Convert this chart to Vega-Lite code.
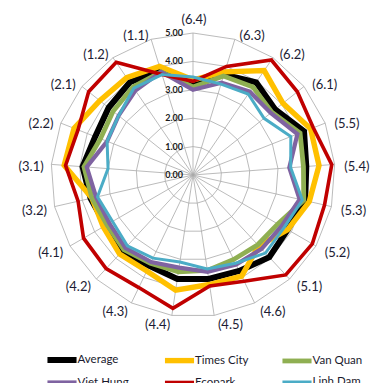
{
  "$schema": "https://vega.github.io/schema/vega-lite/v6.json",
  "width": 378,
  "height": 383,
  "padding": 0,
  "autosize": {"type": "none"},
  "config": {"view": {"stroke": null}, "font": "Lato"},
  "datasets": {
    "axes": [
      {"axis": "(6.4)", "ring": [1, 2, 3, 4, 5]},
      {"axis": "(6.3)", "ring": [1, 2, 3, 4, 5]},
      {"axis": "(6.2)", "ring": [1, 2, 3, 4, 5]},
      {"axis": "(6.1)", "ring": [1, 2, 3, 4, 5]},
      {"axis": "(5.5)", "ring": [1, 2, 3, 4, 5]},
      {"axis": "(5.4)", "ring": [1, 2, 3, 4, 5]},
      {"axis": "(5.3)", "ring": [1, 2, 3, 4, 5]},
      {"axis": "(5.2)", "ring": [1, 2, 3, 4, 5]},
      {"axis": "(5.1)", "ring": [1, 2, 3, 4, 5]},
      {"axis": "(4.6)", "ring": [1, 2, 3, 4, 5]},
      {"axis": "(4.5)", "ring": [1, 2, 3, 4, 5]},
      {"axis": "(4.4)", "ring": [1, 2, 3, 4, 5]},
      {"axis": "(4.3)", "ring": [1, 2, 3, 4, 5]},
      {"axis": "(4.2)", "ring": [1, 2, 3, 4, 5]},
      {"axis": "(4.1)", "ring": [1, 2, 3, 4, 5]},
      {"axis": "(3.2)", "ring": [1, 2, 3, 4, 5]},
      {"axis": "(3.1)", "ring": [1, 2, 3, 4, 5]},
      {"axis": "(2.2)", "ring": [1, 2, 3, 4, 5]},
      {"axis": "(2.1)", "ring": [1, 2, 3, 4, 5]},
      {"axis": "(1.2)", "ring": [1, 2, 3, 4, 5]},
      {"axis": "(1.1)", "ring": [1, 2, 3, 4, 5]}
    ],
    "ticks": [{"level": 0}, {"level": 1}, {"level": 2}, {"level": 3}, {"level": 4}, {"level": 5}],
    "scores": [
      {"series": "Average", "axis": "(6.4)", "value": 3.2},
      {"series": "Average", "axis": "(6.3)", "value": 3.7},
      {"series": "Average", "axis": "(6.2)", "value": 3.95},
      {"series": "Average", "axis": "(6.1)", "value": 3.7},
      {"series": "Average", "axis": "(5.5)", "value": 4.2},
      {"series": "Average", "axis": "(5.4)", "value": 4.0},
      {"series": "Average", "axis": "(5.3)", "value": 4.05},
      {"series": "Average", "axis": "(5.2)", "value": 3.85},
      {"series": "Average", "axis": "(5.1)", "value": 3.95},
      {"series": "Average", "axis": "(4.6)", "value": 3.75},
      {"series": "Average", "axis": "(4.5)", "value": 3.7},
      {"series": "Average", "axis": "(4.4)", "value": 3.7},
      {"series": "Average", "axis": "(4.3)", "value": 3.55},
      {"series": "Average", "axis": "(4.2)", "value": 3.7},
      {"series": "Average", "axis": "(4.1)", "value": 3.55},
      {"series": "Average", "axis": "(3.2)", "value": 3.7},
      {"series": "Average", "axis": "(3.1)", "value": 3.9},
      {"series": "Average", "axis": "(2.2)", "value": 3.7},
      {"series": "Average", "axis": "(2.1)", "value": 3.8},
      {"series": "Average", "axis": "(1.2)", "value": 3.95},
      {"series": "Average", "axis": "(1.1)", "value": 3.85},
      {"series": "Times City", "axis": "(6.4)", "value": 3.35},
      {"series": "Times City", "axis": "(6.3)", "value": 3.8},
      {"series": "Times City", "axis": "(6.2)", "value": 4.45},
      {"series": "Times City", "axis": "(6.1)", "value": 4.05},
      {"series": "Times City", "axis": "(5.5)", "value": 4.45},
      {"series": "Times City", "axis": "(5.4)", "value": 4.45},
      {"series": "Times City", "axis": "(5.3)", "value": 4.2},
      {"series": "Times City", "axis": "(5.2)", "value": 3.85},
      {"series": "Times City", "axis": "(5.1)", "value": 3.4},
      {"series": "Times City", "axis": "(4.6)", "value": 3.95},
      {"series": "Times City", "axis": "(4.5)", "value": 3.9},
      {"series": "Times City", "axis": "(4.4)", "value": 4.1},
      {"series": "Times City", "axis": "(4.3)", "value": 3.75},
      {"series": "Times City", "axis": "(4.2)", "value": 3.8},
      {"series": "Times City", "axis": "(4.1)", "value": 3.65},
      {"series": "Times City", "axis": "(3.2)", "value": 3.65},
      {"series": "Times City", "axis": "(3.1)", "value": 4.55},
      {"series": "Times City", "axis": "(2.2)", "value": 4.5},
      {"series": "Times City", "axis": "(2.1)", "value": 4.2},
      {"series": "Times City", "axis": "(1.2)", "value": 4.15},
      {"series": "Times City", "axis": "(1.1)", "value": 4.0},
      {"series": "Van Quan", "axis": "(6.4)", "value": 3.1},
      {"series": "Van Quan", "axis": "(6.3)", "value": 3.65},
      {"series": "Van Quan", "axis": "(6.2)", "value": 3.75},
      {"series": "Van Quan", "axis": "(6.1)", "value": 3.55},
      {"series": "Van Quan", "axis": "(5.5)", "value": 4.05},
      {"series": "Van Quan", "axis": "(5.4)", "value": 3.9},
      {"series": "Van Quan", "axis": "(5.3)", "value": 4.0},
      {"series": "Van Quan", "axis": "(5.2)", "value": 3.45},
      {"series": "Van Quan", "axis": "(5.1)", "value": 3.35},
      {"series": "Van Quan", "axis": "(4.6)", "value": 3.3},
      {"series": "Van Quan", "axis": "(4.5)", "value": 3.4},
      {"series": "Van Quan", "axis": "(4.4)", "value": 3.45},
      {"series": "Van Quan", "axis": "(4.3)", "value": 3.45},
      {"series": "Van Quan", "axis": "(4.2)", "value": 3.58},
      {"series": "Van Quan", "axis": "(4.1)", "value": 3.5},
      {"series": "Van Quan", "axis": "(3.2)", "value": 3.65},
      {"series": "Van Quan", "axis": "(3.1)", "value": 3.85},
      {"series": "Van Quan", "axis": "(2.2)", "value": 3.5},
      {"series": "Van Quan", "axis": "(2.1)", "value": 3.6},
      {"series": "Van Quan", "axis": "(1.2)", "value": 3.75},
      {"series": "Van Quan", "axis": "(1.1)", "value": 3.8},
      {"series": "Viet Hung", "axis": "(6.4)", "value": 3.0},
      {"series": "Viet Hung", "axis": "(6.3)", "value": 3.4},
      {"series": "Viet Hung", "axis": "(6.2)", "value": 3.55},
      {"series": "Viet Hung", "axis": "(6.1)", "value": 3.5},
      {"series": "Viet Hung", "axis": "(5.5)", "value": 3.95},
      {"series": "Viet Hung", "axis": "(5.4)", "value": 3.4},
      {"series": "Viet Hung", "axis": "(5.3)", "value": 3.85},
      {"series": "Viet Hung", "axis": "(5.2)", "value": 3.6},
      {"series": "Viet Hung", "axis": "(5.1)", "value": 3.55},
      {"series": "Viet Hung", "axis": "(4.6)", "value": 3.5},
      {"series": "Viet Hung", "axis": "(4.5)", "value": 3.45},
      {"series": "Viet Hung", "axis": "(4.4)", "value": 3.3},
      {"series": "Viet Hung", "axis": "(4.3)", "value": 3.4},
      {"series": "Viet Hung", "axis": "(4.2)", "value": 3.5},
      {"series": "Viet Hung", "axis": "(4.1)", "value": 3.4},
      {"series": "Viet Hung", "axis": "(3.2)", "value": 3.5},
      {"series": "Viet Hung", "axis": "(3.1)", "value": 3.75},
      {"series": "Viet Hung", "axis": "(2.2)", "value": 3.25},
      {"series": "Viet Hung", "axis": "(2.1)", "value": 3.35},
      {"series": "Viet Hung", "axis": "(1.2)", "value": 3.6},
      {"series": "Viet Hung", "axis": "(1.1)", "value": 3.8},
      {"series": "Ecopark", "axis": "(6.4)", "value": 3.3},
      {"series": "Ecopark", "axis": "(6.3)", "value": 4.0},
      {"series": "Ecopark", "axis": "(6.2)", "value": 4.9},
      {"series": "Ecopark", "axis": "(6.1)", "value": 4.7},
      {"series": "Ecopark", "axis": "(5.5)", "value": 4.55},
      {"series": "Ecopark", "axis": "(5.4)", "value": 4.9},
      {"series": "Ecopark", "axis": "(5.3)", "value": 4.75},
      {"series": "Ecopark", "axis": "(5.2)", "value": 4.85},
      {"series": "Ecopark", "axis": "(5.1)", "value": 4.8},
      {"series": "Ecopark", "axis": "(4.6)", "value": 4.15},
      {"series": "Ecopark", "axis": "(4.5)", "value": 3.95},
      {"series": "Ecopark", "axis": "(4.4)", "value": 4.75},
      {"series": "Ecopark", "axis": "(4.3)", "value": 4.4},
      {"series": "Ecopark", "axis": "(4.2)", "value": 4.5},
      {"series": "Ecopark", "axis": "(4.1)", "value": 4.45},
      {"series": "Ecopark", "axis": "(3.2)", "value": 4.15},
      {"series": "Ecopark", "axis": "(3.1)", "value": 4.5},
      {"series": "Ecopark", "axis": "(2.2)", "value": 4.35},
      {"series": "Ecopark", "axis": "(2.1)", "value": 4.7},
      {"series": "Ecopark", "axis": "(1.2)", "value": 4.8},
      {"series": "Ecopark", "axis": "(1.1)", "value": 3.7},
      {"series": "Linh Dam", "axis": "(6.4)", "value": 3.45},
      {"series": "Linh Dam", "axis": "(6.3)", "value": 3.35},
      {"series": "Linh Dam", "axis": "(6.2)", "value": 3.45},
      {"series": "Linh Dam", "axis": "(6.1)", "value": 3.2},
      {"series": "Linh Dam", "axis": "(5.5)", "value": 3.7},
      {"series": "Linh Dam", "axis": "(5.4)", "value": 3.45},
      {"series": "Linh Dam", "axis": "(5.3)", "value": 3.95},
      {"series": "Linh Dam", "axis": "(5.2)", "value": 3.7},
      {"series": "Linh Dam", "axis": "(5.1)", "value": 3.75},
      {"series": "Linh Dam", "axis": "(4.6)", "value": 3.45},
      {"series": "Linh Dam", "axis": "(4.5)", "value": 3.35},
      {"series": "Linh Dam", "axis": "(4.4)", "value": 3.1},
      {"series": "Linh Dam", "axis": "(4.3)", "value": 3.25},
      {"series": "Linh Dam", "axis": "(4.2)", "value": 3.4},
      {"series": "Linh Dam", "axis": "(4.1)", "value": 3.27},
      {"series": "Linh Dam", "axis": "(3.2)", "value": 3.45},
      {"series": "Linh Dam", "axis": "(3.1)", "value": 3.0},
      {"series": "Linh Dam", "axis": "(2.2)", "value": 3.25},
      {"series": "Linh Dam", "axis": "(2.1)", "value": 3.35},
      {"series": "Linh Dam", "axis": "(1.2)", "value": 3.7},
      {"series": "Linh Dam", "axis": "(1.1)", "value": 3.7}
    ]
  },
  "layer": [
    {
      "data": {"name": "axes"},
      "transform": [
        {"window": [{"op": "row_number", "as": "n"}]},
        {"calculate": "2*PI*(datum.n-1)/21", "as": "theta"},
        {"flatten": ["ring"]},
        {"calculate": "datum.ring*sin(datum.theta)", "as": "px"},
        {"calculate": "datum.ring*cos(datum.theta)", "as": "py"}
      ],
      "mark": {"type": "line", "interpolate": "linear-closed", "color": "#a9a9a9", "strokeWidth": 0.8},
      "encoding": {
        "x": {"field": "px", "type": "quantitative", "scale": {"domain": [-6.796, 6.514], "nice": false, "zero": false}, "axis": null},
        "y": {"field": "py", "type": "quantitative", "scale": {"domain": [-7.324, 6.162], "nice": false, "zero": false}, "axis": null},
        "detail": {"field": "ring", "type": "nominal"},
        "order": {"field": "n", "type": "quantitative"}
      }
    },
    {
      "data": {"name": "axes"},
      "transform": [
        {"window": [{"op": "row_number", "as": "n"}]},
        {"calculate": "2*PI*(datum.n-1)/21", "as": "theta"},
        {"calculate": "0", "as": "cx"},
        {"calculate": "0", "as": "cy"},
        {"calculate": "5*sin(datum.theta)", "as": "sx"},
        {"calculate": "5*cos(datum.theta)", "as": "sy"}
      ],
      "mark": {"type": "rule", "color": "#a9a9a9", "strokeWidth": 0.8},
      "encoding": {
        "x": {"field": "cx", "type": "quantitative", "scale": {"domain": [-6.796, 6.514], "nice": false, "zero": false}, "axis": null},
        "y": {"field": "cy", "type": "quantitative", "scale": {"domain": [-7.324, 6.162], "nice": false, "zero": false}, "axis": null},
        "x2": {"field": "sx"},
        "y2": {"field": "sy"}
      }
    },
    {
      "data": {"name": "scores"},
      "transform": [
        {"window": [{"op": "row_number", "as": "n"}], "groupby": ["series"]},
        {"calculate": "2*PI*(datum.n-1)/21", "as": "theta"},
        {"calculate": "datum.value*sin(datum.theta)", "as": "px"},
        {"calculate": "datum.value*cos(datum.theta)", "as": "py"}
      ],
      "mark": {"type": "line", "interpolate": "linear-closed", "strokeJoin": "miter"},
      "encoding": {
        "x": {"field": "px", "type": "quantitative", "scale": {"domain": [-6.796, 6.514], "nice": false, "zero": false}, "axis": null},
        "y": {"field": "py", "type": "quantitative", "scale": {"domain": [-7.324, 6.162], "nice": false, "zero": false}, "axis": null},
        "order": {"field": "n", "type": "quantitative"},
        "color": {
          "field": "series", "type": "nominal",
          "scale": {"domain": ["Average", "Times City", "Van Quan", "Viet Hung", "Ecopark", "Linh Dam"],
                    "range": ["#000000", "#FFC000", "#8FAF52", "#7F63A1", "#C00000", "#4BACC6"]},
          "legend": {"title": null, "orient": "none", "legendX": 54, "legendY": 352, "direction": "horizontal", "columns": 3,
                     "columnPadding": 22.5, "rowPadding": 1.5, "gridAlign": "all", "symbolType": "M-3,0L3,0", "symbolSize": 94,
                     "symbolStrokeWidth": 4,
                     "labelFont": "Lato", "labelFontSize": 11.5, "labelColor": "#1a1a2e", "labelOffset": 7.5}
        },
        "strokeWidth": {
          "field": "series", "type": "ordinal",
          "scale": {"domain": ["Average", "Times City", "Van Quan", "Viet Hung", "Ecopark", "Linh Dam"],
                    "range": [6, 3, 2.8, 2.8, 3.2, 3]},
          "legend": null
        }
      }
    },
    {
      "data": {"name": "axes"},
      "transform": [
        {"window": [{"op": "row_number", "as": "n"}]},
        {"calculate": "2*PI*(datum.n-1)/21", "as": "theta"},
        {"calculate": "sin(datum.theta)", "as": "s"},
        {"calculate": "cos(datum.theta)", "as": "c"},
        {"calculate": "5.25*datum.s + 0.5*(datum.s > 0.01 ? 1 : (datum.s < -0.01 ? -1 : 0))", "as": "px"},
        {"calculate": "5.25*datum.c + (datum.c > 0.99 ? 0.3 : 0)", "as": "py"}
      ],
      "mark": {"type": "text", "font": "Lato", "fontSize": 13, "color": "#1c1c34", "align": "center", "baseline": "middle", "dx": 1, "dy": 3},
      "encoding": {
        "x": {"field": "px", "type": "quantitative", "scale": {"domain": [-6.796, 6.514], "nice": false, "zero": false}, "axis": null},
        "y": {"field": "py", "type": "quantitative", "scale": {"domain": [-7.324, 6.162], "nice": false, "zero": false}, "axis": null},
        "text": {"field": "axis", "type": "nominal"}
      }
    },
    {
      "data": {"name": "ticks"},
      "transform": [{"calculate": "0", "as": "cx"}],
      "mark": {"type": "text", "font": "Lato", "fontSize": 9, "fontWeight": "bold", "color": "#1a1a1a", "align": "right", "baseline": "middle", "dx": -10},
      "encoding": {
        "x": {"field": "cx", "type": "quantitative", "scale": {"domain": [-6.796, 6.514], "nice": false, "zero": false}, "axis": null},
        "y": {"field": "level", "type": "quantitative", "scale": {"domain": [-7.324, 6.162], "nice": false, "zero": false}, "axis": null},
        "text": {"field": "level", "type": "quantitative", "format": ".2f"}
      }
    }
  ]
}
